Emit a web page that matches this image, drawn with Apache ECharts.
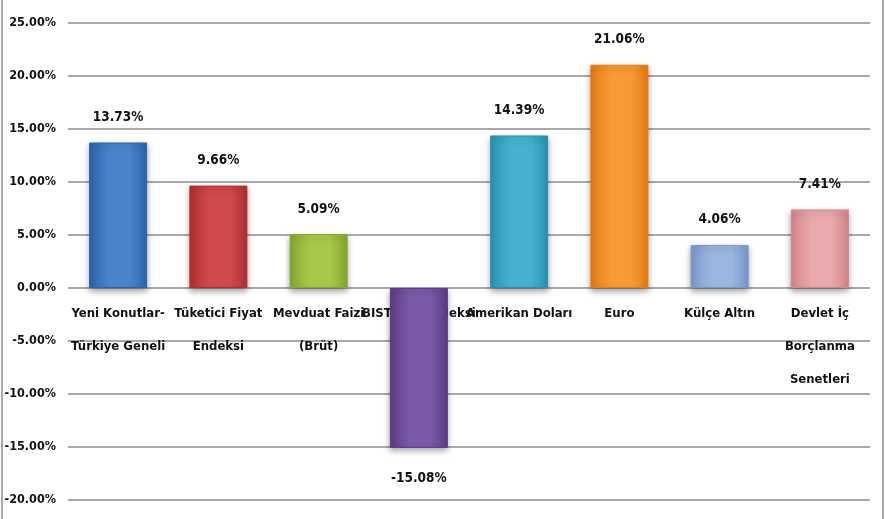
<!DOCTYPE html>
<html>
<head>
<meta charset="utf-8">
<script src="https://cdn.jsdelivr.net/npm/echarts@6/dist/echarts.min.js"></script>
<style>
  html, body { margin: 0; padding: 0; background: #fff; }
  #chart { width: 885px; height: 519px; }
</style>
</head>
<body>
<div id="chart"></div>
<script>
// Annual real return by investment instrument (%)
const categories = [
  'Yeni Konutlar-\nTürkiye Geneli',
  'Tüketici Fiyat\nEndeksi',
  'Mevduat Faizi\n(Brüt)',
  'BIST 100 Endeksi',
  'Amerikan Doları',
  'Euro',
  'Külçe Altın',
  'Devlet İç\nBorçlanma\nSenetleri'
];
const returns = [13.73, 9.66, 5.09, -15.08, 14.39, 21.06, 4.06, 7.41];
// [dark edge, light centre] per bar
const barColors = [
  ['#2f63a8', '#4a85cc'],
  ['#b02f33', '#d04a4c'],
  ['#86a82e', '#a6c94a'],
  ['#5a3d86', '#7a5aa8'],
  ['#2b93b2', '#45b0cf'],
  ['#e57c14', '#f89a35'],
  ['#7a98cc', '#9db6e0'],
  ['#d4878b', '#eaa9ac']
];
const yTicks = { min: -20, max: 25, step: 5 };

const FONT = '"DejaVu Sans Condensed", "Liberation Sans Narrow", sans-serif';
const W = 885, H = 519;
const GRID = { left: 68, right: 15, top: 23, bottom: 19 };

// category labels sit on the zero line: shift the bottom axis up to y = 0
const plotH = H - GRID.top - GRID.bottom;
const zeroOffset = -plotH * (0 - yTicks.min) / (yTicks.max - yTicks.min);

const chart = echarts.init(document.getElementById('chart'));

function grad(c) {
  return new echarts.graphic.LinearGradient(0, 0, 1, 0, [
    { offset: 0, color: c[0] },
    { offset: 0.35, color: c[1] },
    { offset: 0.7, color: c[1] },
    { offset: 1, color: c[0] }
  ]);
}

chart.setOption({
  animation: false,
  backgroundColor: '#fff',
  grid: Object.assign({ containLabel: false, outerBoundsMode: 'none' }, GRID),
  xAxis: {
    type: 'category',
    data: categories,
    position: 'bottom',
    offset: zeroOffset,
    axisLine: { show: false, onZero: false },
    axisTick: { show: false },
    axisLabel: {
      interval: 0,
      margin: 9,
      fontFamily: FONT,
      fontWeight: 'bold',
      fontSize: 13,
      color: '#111',
      lineHeight: 33,
      hideOverlap: false
    },
    z: 0
  },
  yAxis: {
    type: 'value',
    min: yTicks.min,
    max: yTicks.max,
    interval: yTicks.step,
    axisLine: { show: false },
    axisTick: { show: false },
    axisLabel: {
      margin: 12,
      fontFamily: FONT,
      fontWeight: 'bold',
      fontSize: 12.5,
      color: '#111',
      formatter: v => v.toFixed(2) + '%'
    },
    splitLine: { lineStyle: { color: '#8c8c8c', width: 1.5 } }
  },
  series: [{
    type: 'bar',
    barWidth: 58,
    data: returns.map((v, i) => ({
      value: v,
      itemStyle: {
        color: grad(barColors[i]),
        borderColor: barColors[i][0],
        borderWidth: 1,
        shadowColor: 'rgba(0,0,0,0.35)',
        shadowBlur: 6,
        shadowOffsetY: 3
      },
      label: v < 0 ? { position: 'bottom', distance: 24 } : { position: 'top' }
    })),
    label: {
      show: true,
      distance: 18,
      fontFamily: FONT,
      fontWeight: 'bold',
      fontSize: 13.5,
      color: '#111',
      formatter: p => p.value.toFixed(2) + '%'
    },
    z: 5
  }],
  graphic: [
    { type: 'line', shape: { x1: 2, y1: 0, x2: 2, y2: H }, style: { stroke: '#8c8c8c', lineWidth: 1.5 } },
    { type: 'line', shape: { x1: W - 2, y1: 0, x2: W - 2, y2: H }, style: { stroke: '#8c8c8c', lineWidth: 1.5 } }
  ]
});
</script>
</body>
</html>
